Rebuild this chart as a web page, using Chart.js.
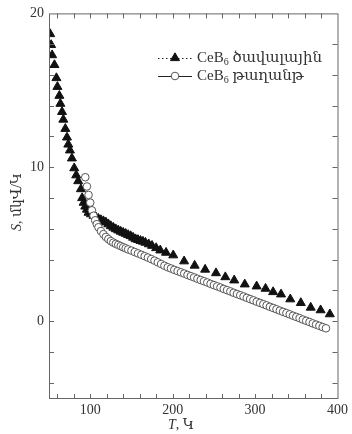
<!DOCTYPE html>
<html>
<head>
<meta charset="utf-8">
<script src="https://cdn.jsdelivr.net/npm/chart.js@4"></script>
<style>
  body { margin: 0; background: #fff; }
</style>
</head>
<body>
<canvas id="seebeck" width="352" height="434"></canvas>
<script>
//data: bulk (triangles)
const bulkT = [51.4, 52.6, 53.8, 56.6, 59, 60.2, 62.6, 63.8, 65.8, 67.4, 69.8, 71.8, 73.4, 75.4, 77.8, 80.6, 83, 85.4, 88.7, 90.2,
	92, 94, 96, 98, 101, 104, 107, 110, 113, 116, 119, 122, 125, 128, 131, 134, 137, 140, 143, 146,
	149, 152, 155, 158, 161, 164, 167, 171, 175, 180, 185, 192, 200.7, 213.9, 226.7, 239.4, 252.6, 263.9, 274.7, 287.5,
	301.9, 312.7, 321.9, 331.5, 342.7, 355.5, 367.5, 379.5, 390.7];
const bulkS = [18.66, 17.95, 17.29, 16.65, 15.8, 15.23, 14.65, 14.13, 13.6, 13.1, 12.5, 11.94, 11.48, 11.1, 10.58, 9.94, 9.48, 9.1, 8.58, 8.0,
	7.7, 7.45, 7.25, 7.05, 6.95, 6.85, 6.75, 6.65, 6.57, 6.5, 6.42, 6.3, 6.18, 6.08, 5.98, 5.9, 5.82, 5.75, 5.68, 5.6,
	5.53, 5.43, 5.33, 5.28, 5.22, 5.17, 5.1, 5.0, 4.9, 4.75, 4.6, 4.45, 4.28, 3.89, 3.61, 3.35, 3.12, 2.86, 2.65, 2.39,
	2.26, 2.11, 1.89, 1.74, 1.42, 1.18, 0.88, 0.71, 0.45];

//data: film (open circles)
const filmT = [94, 96, 98, 100, 102, 104, 106, 108, 110, 113, 116, 119, 122, 125, 128, 131, 134, 137, 140, 143,
	146, 150, 154, 158, 162, 166, 170, 174, 178, 182, 186, 190, 194, 198, 202, 206, 210, 214, 218, 222,
	226, 230, 234, 238, 242, 246, 250, 254, 258, 262, 266, 270, 274, 278, 282, 286, 290, 294, 298, 302,
	306, 310, 314, 318, 322, 326, 330, 334, 338, 342, 346, 350, 354, 358, 362, 366, 370, 374, 378, 382, 386];
const filmS = [9.35, 8.75, 8.2, 7.7, 7.2, 6.85, 6.55, 6.3, 6.1, 5.85, 5.65, 5.47, 5.33, 5.2, 5.1, 5.02, 4.95, 4.87, 4.8, 4.73,
	4.66, 4.58, 4.49, 4.4, 4.31, 4.22, 4.13, 4.03, 3.93, 3.82, 3.71, 3.6, 3.5, 3.42, 3.33, 3.25, 3.17, 3.09, 3.0, 2.92,
	2.84, 2.75, 2.67, 2.59, 2.51, 2.42, 2.34, 2.26, 2.18, 2.09, 2.01, 1.93, 1.84, 1.76, 1.68, 1.6, 1.51, 1.43, 1.35, 1.26,
	1.18, 1.1, 1.02, 0.93, 0.85, 0.77, 0.68, 0.6, 0.52, 0.44, 0.35, 0.27, 0.19, 0.1, 0.02, -0.06, -0.15, -0.23, -0.31, -0.39, -0.47];

//ticks
const xLabels = [100, 200, 300, 400];
const yLabels = [0, 10, 20];
const xMinor = [60, 80, 100, 120, 140, 160, 180, 200, 220, 240, 260, 280, 300, 320, 340, 360, 380];
const yMinor = [-4, -2, 0, 2, 4, 6, 8, 10, 12, 14, 16, 18];

const serif = "'Liberation Serif', 'DejaVu Serif', serif";
const txtColor = "#333";
const axisColor = "#666";

const toPoints = (xs, ys) => xs.map((x, i) => ({ x: x, y: ys[i] }));

//frame, inward ticks, axis titles, legend
const framePlugin = {
	id: "framePlugin",
	afterDraw(chart) {
		const {
			ctx,
			chartArea: { top, bottom, left, right },
			scales: { x, y },
		} = chart;
		ctx.save();
		ctx.strokeStyle = axisColor;
		ctx.lineWidth = 1;
		ctx.strokeRect(left + 0.5, top + 0.5, right - left, bottom - top);

		ctx.beginPath();
		xMinor.forEach((v) => {
			const px = Math.round(x.getPixelForValue(v)) + 0.5;
			ctx.moveTo(px, bottom);
			ctx.lineTo(px, bottom - 4);
			ctx.moveTo(px, top);
			ctx.lineTo(px, top + 5);
		});
		yMinor.forEach((v) => {
			const py = Math.round(y.getPixelForValue(v)) + 0.5;
			ctx.moveTo(left, py);
			ctx.lineTo(left + 5, py);
			ctx.moveTo(right, py);
			ctx.lineTo(right - 5, py);
		});
		ctx.stroke();

		//x title
		ctx.fillStyle = txtColor;
		ctx.textBaseline = "middle";
		ctx.textAlign = "left";
		const fIt = "italic 14px " + serif;
		const fUp = "14px " + serif;
		ctx.font = fIt;
		const wT = ctx.measureText("T").width;
		ctx.font = fUp;
		const wRest = ctx.measureText(", Կ").width;
		let sx = 181 - (wT + wRest) / 2;
		ctx.font = fIt;
		ctx.fillText("T", sx, 425);
		ctx.font = fUp;
		ctx.fillText(", Կ", sx + wT, 425);

		//y title
		ctx.save();
		ctx.translate(17, 202);
		ctx.rotate(-Math.PI / 2);
		ctx.font = fIt;
		const wS = ctx.measureText("S").width;
		ctx.font = fUp;
		const wU = ctx.measureText(", մկՎ/Կ").width;
		sx = -(wS + wU) / 2;
		ctx.font = fIt;
		ctx.fillText("S", sx, 0);
		ctx.font = fUp;
		ctx.fillText(", մկՎ/Կ", sx + wS, 0);
		ctx.restore();

		//legend
		const rows = [
			{ ds: chart.data.datasets[0], yy: 58, dash: [1.5, 2.5], name: " ծավալային" },
			{ ds: chart.data.datasets[1], yy: 76, dash: [], name: " թաղանթ" },
		];
		const fLeg = "15px " + serif;
		rows.forEach((r) => {
			ctx.strokeStyle = "#222";
			ctx.lineWidth = 1;
			ctx.setLineDash(r.dash);
			ctx.beginPath();
			ctx.moveTo(158, r.yy + 0.5);
			ctx.lineTo(192, r.yy + 0.5);
			ctx.stroke();
			ctx.setLineDash([]);

			ctx.fillStyle = r.ds.backgroundColor;
			ctx.strokeStyle = r.ds.borderColor;
			ctx.lineWidth = r.ds.borderWidth;
			Chart.helpers.drawPoint(ctx, {
				pointStyle: r.ds.pointStyle,
				radius: r.ds.pointRadius,
				borderWidth: r.ds.borderWidth,
				rotation: 0,
			}, 175, r.yy);

			ctx.fillStyle = txtColor;
			ctx.font = fLeg;
			let tx = 197;
			ctx.fillText("CeB", tx, r.yy);
			tx += ctx.measureText("CeB").width;
			ctx.font = "10px " + serif;
			ctx.fillText("6", tx, r.yy + 4);
			tx += ctx.measureText("6").width;
			ctx.font = fLeg;
			ctx.fillText(r.name, tx, r.yy);
		});
		ctx.restore();
	},
};

//config
const config = {
	type: "scatter",
	data: {
		datasets: [
			{
				label: "CeB6 ծավալային",
				data: toPoints(bulkT, bulkS),
				pointStyle: "triangle",
				pointRadius: 5.2,
				backgroundColor: "#111",
				borderColor: "#111",
				borderWidth: 1,
				order: 1,
			},
			{
				label: "CeB6 թաղանթ",
				data: toPoints(filmT, filmS),
				pointStyle: "circle",
				pointRadius: 3.8,
				backgroundColor: "#fff",
				borderColor: "#555",
				borderWidth: 1,
				order: 0,
			},
		],
	},
	options: {
		responsive: false,
		animation: false,
		layout: {
			padding: { top: 10, right: 11, left: 0, bottom: 0 },
		},
		scales: {
			x: {
				type: "linear",
				min: 50,
				max: 400,
				grid: { display: false, drawTicks: false },
				border: { display: false },
				afterBuildTicks: (s) => {
					s.ticks = xLabels.map((v) => ({ value: v }));
				},
				afterFit: (s) => {
					s.height = 36;
				},
				ticks: {
					padding: 4,
					maxRotation: 0,
					color: txtColor,
					font: { family: serif, size: 14 },
				},
			},
			y: {
				type: "linear",
				min: -5,
				max: 20,
				grid: { display: false, drawTicks: false },
				border: { display: false },
				afterBuildTicks: (s) => {
					s.ticks = yLabels.map((v) => ({ value: v }));
				},
				afterFit: (s) => {
					s.width = 49;
				},
				ticks: {
					padding: 5,
					color: txtColor,
					font: { family: serif, size: 14 },
				},
			},
		},
		plugins: {
			legend: { display: false },
			tooltip: { enabled: false },
		},
	},
	plugins: [framePlugin],
};

//render
const seebeckChart = new Chart(document.getElementById("seebeck"), config);
</script>
</body>
</html>
